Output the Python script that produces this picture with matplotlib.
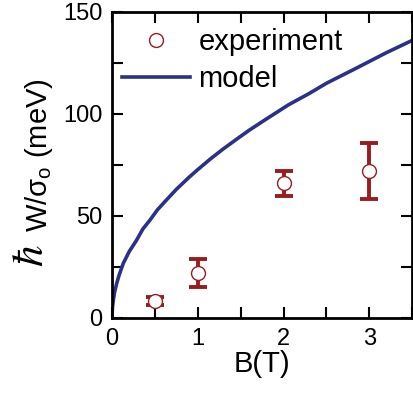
import matplotlib
matplotlib.use("Agg")
import matplotlib.pyplot as plt
from matplotlib.ticker import MultipleLocator

plt.rcParams['font.family'] = ['Liberation Sans', 'DejaVu Sans']
plt.rcParams['mathtext.fontset'] = 'custom'
plt.rcParams['mathtext.rm'] = 'Liberation Sans'
plt.rcParams['mathtext.it'] = 'Liberation Sans:italic'

# experiment data
exp_B = [0.5, 1.0, 2.0, 3.0]
exp_W = [8.5, 22.0, 66.0, 72.0]
exp_err = [2.0, 7.0, 6.0, 13.5]

# model curve
model_B = [0.0, 0.005, 0.015, 0.03, 0.054, 0.08, 0.13, 0.2, 0.285, 0.36, 0.44, 0.53, 0.63,
           0.75, 0.9, 1.0, 1.15, 1.29, 1.45, 1.6, 1.8, 2.06, 2.3, 2.5, 2.83, 3.2, 3.5]
model_W = [0.0, 5.1, 8.6, 12.6, 16.8, 20.6, 26.6, 32.5, 38.0, 43.6, 47.8, 53.0, 57.6,
           63.0, 69.0, 72.7, 78.0, 82.6, 87.5, 92.0, 97.5, 104.5, 110.0, 115.0, 122.0, 130.0, 136.0]

red = '#9b1c20'
blue = '#2b3088'

fig = plt.figure(figsize=(4.14, 3.95), dpi=100)
ax = fig.add_axes([0.2705, 0.195, 0.725, 0.775])

ax.plot(model_B, model_W, color=blue, lw=2.6, label='model', zorder=2)
ax.errorbar(exp_B, exp_W, yerr=exp_err, fmt='none', ecolor=red, elinewidth=2.8,
            capsize=6.5, capthick=2.8, zorder=3)
ax.plot(exp_B, exp_W, 'o', ms=10, mfc='white', mec=red, mew=1.0, zorder=4,
        label='experiment', linestyle='none')

ax.set_xlim(0, 3.5)
ax.set_ylim(0, 150)
ax.xaxis.set_major_locator(MultipleLocator(1))
ax.xaxis.set_minor_locator(MultipleLocator(0.5))
ax.yaxis.set_major_locator(MultipleLocator(50))
ax.yaxis.set_minor_locator(MultipleLocator(25))
ax.tick_params(which='both', direction='in', top=True, right=True, width=1.5,
               labelsize=17, pad=7)
ax.tick_params(which='major', length=8)
ax.tick_params(which='minor', length=8)
for s in ax.spines.values():
    s.set_linewidth(2)

ax.set_xlabel('B(T)', fontsize=21, labelpad=0)

fig.text(0.093, 0.606, r'W/σ$_{\mathrm{o}}$ (meV)', rotation=90, fontsize=21,
         ha='center', va='center')
fig.text(0.077, 0.352, r'$\hbar$', rotation=90, fontsize=31, math_fontfamily='stix',
         ha='center', va='center')

h, l = ax.get_legend_handles_labels()
ax.legend(h[::-1], l[::-1], loc='upper left', frameon=False, fontsize=21,
          handlelength=2.3, handletextpad=0.3, borderaxespad=0.0, borderpad=0.36,
          labelspacing=0.3, bbox_to_anchor=(0.0, 0.98))

fig.savefig('out.png', dpi=100)
